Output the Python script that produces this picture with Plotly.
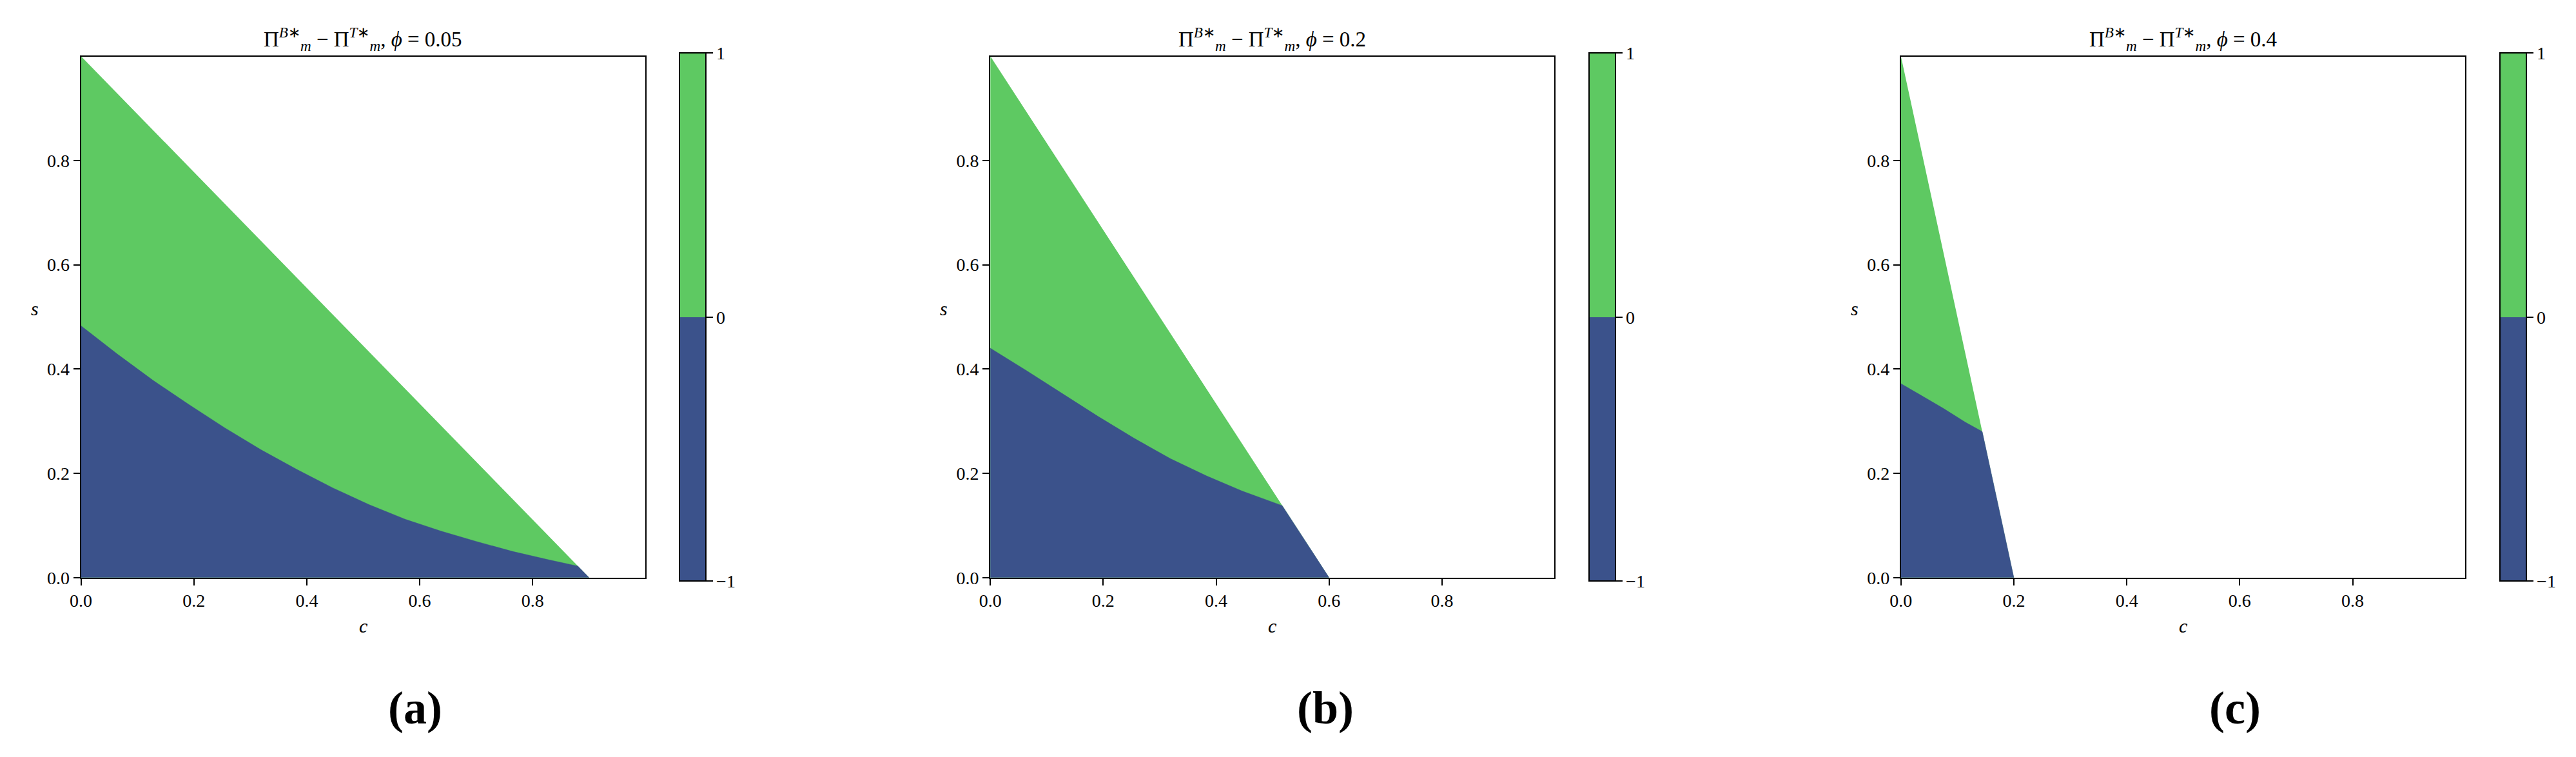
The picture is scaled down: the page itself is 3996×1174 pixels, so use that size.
import plotly.graph_objects as go

W, H = 3996, 1174

# ---- data ----
PHI = ["0.05", "0.2", "0.4"]
PANEL_LABELS = ["a", "b", "c"]
# outer boundary of the feasible region: from (0, S_TOP) down to (C_MAX, 0)
S_TOP = [1.0, 1.0, 1.0]
C_MAX = [0.9, 0.6, 0.2]
# blue/green boundary (Pi_B - Pi_T = 0) for each panel
CURVE_C_A = [0.0, 0.064, 0.128, 0.191, 0.255, 0.319, 0.383, 0.446, 0.510, 0.574, 0.638, 0.701, 0.765, 0.829, 0.880]
CURVE_S_A = [0.483, 0.429, 0.378, 0.332, 0.287, 0.245, 0.207, 0.172, 0.140, 0.112, 0.089, 0.069, 0.050, 0.034, 0.022]
CURVE_C_B = [0.0, 0.064, 0.128, 0.191, 0.255, 0.319, 0.383, 0.446, 0.517]
CURVE_S_B = [0.440, 0.397, 0.353, 0.309, 0.267, 0.228, 0.195, 0.166, 0.138]
CURVE_C_C = [0.0, 0.038, 0.076, 0.114, 0.144]
CURVE_S_C = [0.372, 0.348, 0.324, 0.298, 0.280]
CURVES = [(CURVE_C_A, CURVE_S_A), (CURVE_C_B, CURVE_S_B), (CURVE_C_C, CURVE_S_C)]
TICK_VALS = [0.0, 0.2, 0.4, 0.6, 0.8]
TICK_TEXT = ["0.0", "0.2", "0.4", "0.6", "0.8"]
CBAR_VALS = [-1, 0, 1]
CBAR_TEXT = ["\u22121", "0", "1"]
AX_MAX = 0.999

GREEN = "#5ec962"
BLUE = "#3b528b"
FONT = "Liberation Serif"

# ---- layout geometry (pixels) ----
PLOT_LEFT = [100, 1517, 2936]
PLOT_W = 879
PLOT_TOP, PLOT_BOTTOM = 81, 900
CBAR_OFF = 933
CBAR_W = 41
CAPTION_X = [621, 2039, 3457]

def px(x):
    return x / W

def py(y):
    return 1 - y / H

fig = go.Figure()
layout = dict(
    width=W, height=H,
    margin=dict(l=0, r=0, t=0, b=0),
    paper_bgcolor="white", plot_bgcolor="white",
    showlegend=False,
    font=dict(family=FONT, color="black", size=28),
)
annotations = []
colorscale = [[0, BLUE], [0.5, BLUE], [0.5, GREEN], [1, GREEN]]

for i in range(3):
    xa = "x" if i == 0 else f"x{i+1}"
    ya = "y" if i == 0 else f"y{i+1}"
    cx, cs = CURVES[i]
    # green: whole feasible triangle
    gx = [0.0, 0.0, C_MAX[i], 0.0]
    gy = [0.0, S_TOP[i], 0.0, 0.0]
    fig.add_trace(go.Scatter(x=gx, y=gy, mode="lines", fill="toself",
                             fillcolor=GREEN, line=dict(width=0, color=GREEN),
                             hoverinfo="skip", xaxis=xa, yaxis=ya))
    # blue: below the boundary curve
    bx = [0.0] + list(cx) + [C_MAX[i], 0.0]
    by = [0.0] + list(cs) + [0.0, 0.0]
    fig.add_trace(go.Scatter(x=bx, y=by, mode="lines", fill="toself",
                             fillcolor=BLUE, line=dict(width=0.5, color=BLUE),
                             hoverinfo="skip", xaxis=xa, yaxis=ya))
    # colorbar
    fig.add_trace(go.Scatter(
        x=[None], y=[None], mode="markers", xaxis=xa, yaxis=ya, hoverinfo="skip",
        marker=dict(color=[CBAR_VALS[0]], cmin=CBAR_VALS[0], cmax=CBAR_VALS[-1],
                    colorscale=colorscale, showscale=True,
                    colorbar=dict(
                        x=px(PLOT_LEFT[i] + CBAR_OFF), xanchor="left", xpad=0, ypad=0,
                        y=py((PLOT_TOP + PLOT_BOTTOM) / 2), yanchor="middle",
                        len=PLOT_BOTTOM - PLOT_TOP, lenmode="pixels",
                        thickness=CBAR_W, thicknessmode="pixels",
                        outlinewidth=2, outlinecolor="black",
                        tickvals=CBAR_VALS, ticktext=CBAR_TEXT,
                        ticks="outside", ticklen=10, tickwidth=2, tickcolor="black",
                        tickfont=dict(family=FONT, size=28, color="black"),
                    ))))

    dom_x = [px(PLOT_LEFT[i]), px(PLOT_LEFT[i] + PLOT_W)]
    dom_y = [py(PLOT_BOTTOM), py(PLOT_TOP)]
    axis_common = dict(range=[0, AX_MAX], tickvals=TICK_VALS, ticktext=TICK_TEXT,
                       showgrid=False, zeroline=False, showline=True, mirror=True,
                       linecolor="black", linewidth=2, ticks="outside", ticklen=10,
                       tickwidth=2, tickcolor="black",
                       tickfont=dict(family=FONT, size=28, color="black"))
    layout["xaxis" if i == 0 else f"xaxis{i+1}"] = dict(domain=dom_x, anchor=ya, **axis_common)
    layout["yaxis" if i == 0 else f"yaxis{i+1}"] = dict(domain=dom_y, anchor=xa, **axis_common)

    cxp = px(PLOT_LEFT[i] + PLOT_W / 2)
    annotations.append(dict(
        x=cxp, y=py(53), xref="paper", yref="paper", showarrow=False,
        xanchor="center", yanchor="middle",
        text=f"\u03a0<sup><i>B</i>\u2217</sup><sub><i>m</i></sub> \u2212 \u03a0<sup><i>T</i>\u2217</sup><sub><i>m</i></sub>, <i>\u03d5</i> = {PHI[i]}",
        font=dict(family=FONT, size=33, color="black")))
    annotations.append(dict(
        x=cxp, y=py(976), xref="paper", yref="paper", showarrow=False,
        xanchor="center", yanchor="middle", text="<i>c</i>",
        font=dict(family=FONT, size=30, color="black")))
    annotations.append(dict(
        x=px(PLOT_LEFT[i] - 72), y=py(477), xref="paper", yref="paper", showarrow=False,
        xanchor="center", yanchor="middle", text="<i>s</i>",
        font=dict(family=FONT, size=30, color="black")))
    annotations.append(dict(
        x=px(CAPTION_X[i]), y=py(1105), xref="paper", yref="paper", showarrow=False,
        xanchor="center", yanchor="middle", text=f"<b>({PANEL_LABELS[i]})</b>",
        font=dict(family=FONT, size=72, color="black")))

layout["annotations"] = annotations
fig.update_layout(**layout)
fig.write_html("out.html")
